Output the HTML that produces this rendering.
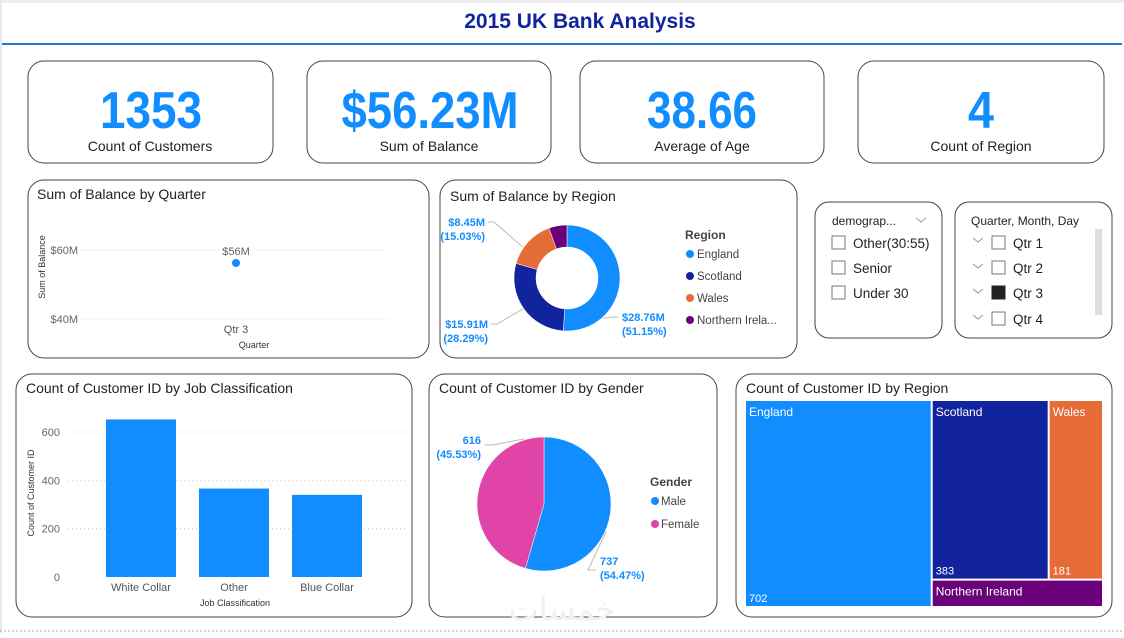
<!DOCTYPE html>
<html><head><meta charset="utf-8">
<style>
html,body{margin:0;padding:0;background:#fff;}
body{width:1124px;height:633px;overflow:hidden;font-family:"Liberation Sans",sans-serif;}
svg text{font-family:"Liberation Sans","DejaVu Sans",sans-serif;}
</style></head>
<body>
<svg id="dash" width="1124" height="633" viewBox="0 0 1124 633" xmlns="http://www.w3.org/2000/svg">
  <rect x="0" y="0" width="1124" height="633" fill="#fff"/>
  <rect x="0" y="0" width="1124" height="3" fill="#eee"/>
  <rect x="0" y="0" width="2" height="633" fill="#e8e8e8"/>
  <line x1="0" y1="631" x2="1124" y2="631" stroke="#aaa" stroke-dasharray="2,2" stroke-width="1"/>
  <text x="580" y="28" text-anchor="middle" font-size="21" font-weight="bold" fill="#12239E">2015 UK Bank Analysis</text>
  <rect x="2" y="43" width="1120" height="2" fill="#1f78d1"/>

  <g>
    <rect x="28" y="61" width="245" height="102" rx="16" fill="#fff" stroke="#444"/>
    <text x="151" y="128" text-anchor="middle" font-size="52" font-weight="bold" fill="#118DFF" textLength="102" lengthAdjust="spacingAndGlyphs">1353</text>
    <text x="150" y="151" text-anchor="middle" font-size="14" fill="#222">Count of Customers</text>
  </g>
  <g>
    <rect x="307" y="61" width="244" height="102" rx="16" fill="#fff" stroke="#444"/>
    <text x="430" y="128" text-anchor="middle" font-size="52" font-weight="bold" fill="#118DFF" textLength="177" lengthAdjust="spacingAndGlyphs">$56.23M</text>
    <text x="429" y="151" text-anchor="middle" font-size="14" fill="#222">Sum of Balance</text>
  </g>
  <g>
    <rect x="580" y="61" width="244" height="102" rx="16" fill="#fff" stroke="#444"/>
    <text x="702" y="128" text-anchor="middle" font-size="52" font-weight="bold" fill="#118DFF" textLength="110" lengthAdjust="spacingAndGlyphs">38.66</text>
    <text x="702" y="151" text-anchor="middle" font-size="14" fill="#222">Average of Age</text>
  </g>
  <g>
    <rect x="858" y="61" width="246" height="102" rx="16" fill="#fff" stroke="#444"/>
    <text x="981" y="128" text-anchor="middle" font-size="52" font-weight="bold" fill="#118DFF" textLength="26" lengthAdjust="spacingAndGlyphs">4</text>
    <text x="981" y="151" text-anchor="middle" font-size="14" fill="#222">Count of Region</text>
  </g>

  <rect x="28" y="180" width="401" height="178" rx="16" fill="#fff" stroke="#444"/>
  <text x="37" y="199" font-size="14" fill="#222">Sum of Balance by Quarter</text>
  <rect x="440" y="180" width="357" height="178" rx="16" fill="#fff" stroke="#444"/>
  <text x="450" y="201" font-size="14" fill="#222">Sum of Balance by Region</text>
  <rect x="16" y="374" width="396" height="243" rx="16" fill="#fff" stroke="#444"/>
  <text x="26" y="393" font-size="14" fill="#222">Count of Customer ID by Job Classification</text>
  <rect x="429" y="374" width="288" height="243" rx="16" fill="#fff" stroke="#444"/>
  <text x="439" y="393" font-size="14" fill="#222">Count of Customer ID by Gender</text>
  <rect x="736" y="374" width="376" height="243" rx="16" fill="#fff" stroke="#444"/>
  <text x="746" y="393" font-size="14" fill="#222">Count of Customer ID by Region</text>

  <g>
    <rect x="815" y="202" width="127" height="136" rx="14" fill="#fff" stroke="#444"/>
    <text x="832" y="225" font-size="12" fill="#222">demograp...</text>
    <path d="M916 218 l5 4 l5 -4" fill="none" stroke="#999"/>
    <rect x="832" y="236" width="13" height="13" fill="#fff" stroke="#777"/>
    <text x="853" y="248" font-size="13.5" fill="#222">Other(30:55)</text>
    <rect x="832" y="261" width="13" height="13" fill="#fff" stroke="#777"/>
    <text x="853" y="273" font-size="13.5" fill="#222">Senior</text>
    <rect x="832" y="286" width="13" height="13" fill="#fff" stroke="#777"/>
    <text x="853" y="298" font-size="13.5" fill="#222">Under 30</text>
  </g>
  <g>
    <rect x="955" y="202" width="157" height="136" rx="14" fill="#fff" stroke="#444"/>
    <text x="971" y="225" font-size="12" fill="#222">Quarter, Month, Day</text>
    <rect x="1095" y="229" width="7" height="86" fill="#ddd"/>
    <path d="M973 238 l5 4 l5 -4" fill="none" stroke="#999"/>
    <rect x="992" y="236" width="13" height="13" fill="#fff" stroke="#777"/>
    <text x="1013" y="248" font-size="13.5" fill="#222">Qtr 1</text>
    <path d="M973 264 l5 4 l5 -4" fill="none" stroke="#999"/>
    <rect x="992" y="261" width="13" height="13" fill="#fff" stroke="#777"/>
    <text x="1013" y="273" font-size="13.5" fill="#222">Qtr 2</text>
    <path d="M973 289 l5 4 l5 -4" fill="none" stroke="#999"/>
    <rect x="992" y="286" width="13" height="13" fill="#222" stroke="#222"/>
    <text x="1013" y="298" font-size="13.5" fill="#222">Qtr 3</text>
    <path d="M973 315 l5 4 l5 -4" fill="none" stroke="#999"/>
    <rect x="992" y="312" width="13" height="13" fill="#fff" stroke="#777"/>
    <text x="1013" y="324" font-size="13.5" fill="#222">Qtr 4</text>
  </g>

  <g id="scatter"></g>
  <g id="donut"></g>
  <g id="bars"></g>
  <g id="pie"></g>
  <g id="treemap"></g>
  <text x="562" y="620" text-anchor="middle" font-size="32" fill="#f0f0f0">خمسات</text>
</svg>
<script>
const quarterCats = ["Qtr 3"];
const quarterBalance = [56.23];
const quarterTicks = [40, 60];

const regionNames = ["England", "Scotland", "Wales", "Northern Ireland"];
const regionBalance = [28.76, 15.91, 8.45, 3.11];
const regionCounts = [702, 383, 181, 87];
const regionColors = ["#118DFF", "#12239E", "#E66C37", "#6B007B"];

const jobCats = ["White Collar", "Other", "Blue Collar"];
const jobCounts = [652, 366, 340];
const jobTicks = [0, 200, 400, 600];

const genderCats = ["Male", "Female"];
const genderCounts = [737, 616];
const genderColors = ["#118DFF", "#E044A7"];

const NS = "http://www.w3.org/2000/svg";
function mk(tag, attrs, parent, txt){
  const e = document.createElementNS(NS, tag);
  for (const k in attrs) e.setAttribute(k, attrs[k]);
  if (txt !== undefined) e.textContent = txt;
  parent.appendChild(e);
  return e;
}

(function(){
  const g = document.getElementById('scatter');
  const yS = v => 319 + (v - 40) * (250 - 319) / 20;
  const x0 = 82, x1 = 390;
  const xS = i => x0 + (x1 - x0) * (i + 0.5) / quarterCats.length;
  quarterTicks.forEach(t => {
    const l = mk('line', {x1: x0, x2: x1, y1: yS(t), y2: yS(t), stroke: '#ccc', 'stroke-dasharray': '1,3'}, g);
    
    
    const tx = mk('text', {x: 78, y: yS(t) + 4, 'text-anchor': 'end', 'font-size': 11, fill: '#666'}, g, '$' + t + 'M');
    
    
  });
  quarterCats.forEach((c, i) => {
    const x = xS(i), y = yS(quarterBalance[i]);
    const p = mk('circle', {cx: x, cy: y, r: 4, fill: '#118DFF'}, g);
    
    
    const lb = mk('text', {x: x, y: y - 8, 'text-anchor': 'middle', 'font-size': 11, fill: '#666'}, g, '$' + Math.round(quarterBalance[i]) + 'M');
    
    
    const xl = mk('text', {x: x, y: 333, 'text-anchor': 'middle', 'font-size': 11, fill: '#555'}, g, c);
    
    
  });
  const xt = mk('text', {x: 254, y: 348, 'text-anchor': 'middle', 'font-size': 9, fill: '#333'}, g, 'Quarter');
  
  
  const yt = mk('text', {x: 0, y: 0, 'text-anchor': 'middle', 'font-size': 9, fill: '#333', transform: 'translate(45,267) rotate(-90)'}, g, 'Sum of Balance');
  
  
})();

function arcPath(cx, cy, r, r0, a0, a1){
  const p = (a, rr) => [cx + rr * Math.sin(a), cy - rr * Math.cos(a)];
  const large = (a1 - a0) > Math.PI ? 1 : 0;
  const [x0, y0] = p(a0, r), [x1, y1] = p(a1, r);
  if (r0 > 0){
    const [x2, y2] = p(a1, r0), [x3, y3] = p(a0, r0);
    return `M${x0} ${y0} A${r} ${r} 0 ${large} 1 ${x1} ${y1} L${x2} ${y2} A${r0} ${r0} 0 ${large} 0 ${x3} ${y3} Z`;
  }
  return `M${cx} ${cy} L${x0} ${y0} A${r} ${r} 0 ${large} 1 ${x1} ${y1} Z`;
}

(function(){
  const g = document.getElementById('donut');
  const cx = 567, cy = 278, R = 53, r0 = 31;
  const tot = regionBalance.reduce((a, b) => a + b, 0);
  const labAng = [0.75, 0.5, 0.35];
  const labOff = [[2, 48], [-26, 55], [-29, -47]];
  let a = 0;
  regionBalance.forEach((v, i) => {
    const a1 = a + v / tot * 2 * Math.PI;
    const s = mk('path', {d: arcPath(cx, cy, R, r0, a, a1), fill: regionColors[i], stroke: '#fff', 'stroke-width': 0.5}, g);
    
    
    if (i < 3){
      const m = a + (a1 - a) * labAng[i];
      const px = cx + (R + 1) * Math.sin(m), py = cy - (R + 1) * Math.cos(m);
      const right = labOff[i][0] > 0;
      const tx = cx + (right ? R : -R) + labOff[i][0], ty = cy + labOff[i][1];
      const lx = right ? tx - 3 : tx + 3;
      mk('polyline', {points: `${px},${py} ${lx + (right ? -6 : 6)},${ty - 9} ${lx},${ty - 9}`, fill: 'none', stroke: '#bbb'}, g);
      const pct = (v / tot * 100).toFixed(2);
      const anchor = right ? 'start' : 'end';
      const t1 = mk('text', {x: tx, y: ty - 5, 'text-anchor': anchor, 'font-size': 11, 'font-weight': 'bold', fill: '#118DFF'}, g, '$' + v.toFixed(2) + 'M');
      
      
      const t2 = mk('text', {x: tx, y: ty + 9, 'text-anchor': anchor, 'font-size': 11, 'font-weight': 'bold', fill: '#118DFF'}, g, '(' + pct + '%)');
      
      
    }
    a = a1;
  });
  const lt = mk('text', {x: 685, y: 239, 'font-size': 12, 'font-weight': 'bold', fill: '#444'}, g, 'Region');
  
  
  regionNames.forEach((n, i) => {
    const y = 254 + i * 22;
    const le = mk('g', {}, g);
    
    
    mk('circle', {cx: 690, cy: y, r: 4, fill: regionColors[i]}, le);
    mk('text', {x: 697, y: y + 4, 'font-size': 11.5, fill: '#444'}, le, n.length > 14 ? 'Northern Irela...' : n);
  });
})();

(function(){
  const g = document.getElementById('bars');
  const yS = v => 577 - v * 145 / 600;
  const x0 = 68, x1 = 405, step = 93, first = 106, bw = 70;
  jobTicks.forEach(t => {
    if (t > 0){
      const l = mk('line', {x1: x0, x2: x1, y1: yS(t), y2: yS(t), stroke: '#ccc', 'stroke-dasharray': '1,3'}, g);
      
      
    }
    const tx = mk('text', {x: 60, y: yS(t) + 4, 'text-anchor': 'end', 'font-size': 11, fill: '#666'}, g, t);
    
    
  });
  jobCats.forEach((c, i) => {
    const x = first + i * step;
    const b = mk('rect', {x: x, y: yS(jobCounts[i]), width: bw, height: yS(0) - yS(jobCounts[i]), fill: '#118DFF'}, g);
    
    
    const l = mk('text', {x: x + bw / 2, y: 591, 'text-anchor': 'middle', 'font-size': 11, fill: '#555'}, g, c);
    
    
  });
  const xt = mk('text', {x: 235, y: 606, 'text-anchor': 'middle', 'font-size': 9, fill: '#333'}, g, 'Job Classification');
  
  
  const yt = mk('text', {x: 0, y: 0, 'text-anchor': 'middle', 'font-size': 9, fill: '#333', transform: 'translate(34,493) rotate(-90)'}, g, 'Count of Customer ID');
  
  
})();

(function(){
  const g = document.getElementById('pie');
  const cx = 544, cy = 504, R = 67;
  const tot = genderCounts.reduce((a, b) => a + b, 0);
  const labAng = [0.58, 0.9];
  const labPos = [[600, 565], [481, 444]];
  let a = 0;
  genderCounts.forEach((v, i) => {
    const a1 = a + v / tot * 2 * Math.PI;
    const s = mk('path', {d: arcPath(cx, cy, R, 0, a, a1), fill: genderColors[i], stroke: '#fff', 'stroke-width': 0.5}, g);
    
    
    const m = a + (a1 - a) * labAng[i];
    const px = cx + (R + 1) * Math.sin(m), py = cy - (R + 1) * Math.cos(m);
    const right = i === 0;
    const [tx, ty] = labPos[i];
    const lx = right ? tx - 4 : tx + 4;
    const ly = right ? ty + 5 : ty + 1;
    mk('polyline', {points: `${px},${py} ${lx + (right ? -8 : 8)},${ly} ${lx},${ly}`, fill: 'none', stroke: '#bbb'}, g);
    const pct = (v / tot * 100).toFixed(2);
    const anchor = right ? 'start' : 'end';
    const t1 = mk('text', {x: tx, y: ty, 'text-anchor': anchor, 'font-size': 11, 'font-weight': 'bold', fill: '#118DFF'}, g, v);
    
    
    const t2 = mk('text', {x: tx, y: ty + 14, 'text-anchor': anchor, 'font-size': 11, 'font-weight': 'bold', fill: '#118DFF'}, g, '(' + pct + '%)');
    
    
    a = a1;
  });
  const lt = mk('text', {x: 650, y: 486, 'font-size': 12, 'font-weight': 'bold', fill: '#444'}, g, 'Gender');
  
  
  genderCats.forEach((n, i) => {
    const y = 501 + i * 23;
    const le = mk('g', {}, g);
    
    
    mk('circle', {cx: 655, cy: y, r: 4, fill: genderColors[i]}, le);
    mk('text', {x: 661, y: y + 4, 'font-size': 11.5, fill: '#444'}, le, n);
  });
})();

(function(){
  const g = document.getElementById('treemap');
  const X = 746, Y = 401, W = 356, H = 205, gap = 2;
  const tot = regionCounts.reduce((a, b) => a + b, 0);
  const rects = [];
  const w0 = W * regionCounts[0] / tot;
  rects.push([X, Y, w0, H]);
  const rest = tot - regionCounts[0];
  const rx = X + w0 + gap, rw = W - w0 - gap;
  const hNI = H * regionCounts[3] / rest;
  const topH = H - hNI;
  const topTot = regionCounts[1] + regionCounts[2];
  const wS = rw * regionCounts[1] / topTot;
  rects.push([rx, Y, wS, topH]);
  rects.push([rx + wS + gap, Y, rw - wS - gap, topH]);
  rects.push([rx, Y + topH + gap, rw, hNI - gap]);
  rects.forEach((r, i) => {
    const c = mk('g', {}, g);
    
    
    mk('rect', {x: r[0], y: r[1], width: Math.max(r[2], 0), height: Math.max(r[3], 0), fill: regionColors[i]}, c);
    mk('text', {x: r[0] + 3, y: r[1] + 15, 'font-size': 12, fill: '#fff'}, c, regionNames[i]);
    if (i < 3) mk('text', {x: r[0] + 3, y: r[1] + r[3] - 4, 'font-size': 11, fill: '#fff'}, c, regionCounts[i]);
  });
})();
</script>
</body></html>
